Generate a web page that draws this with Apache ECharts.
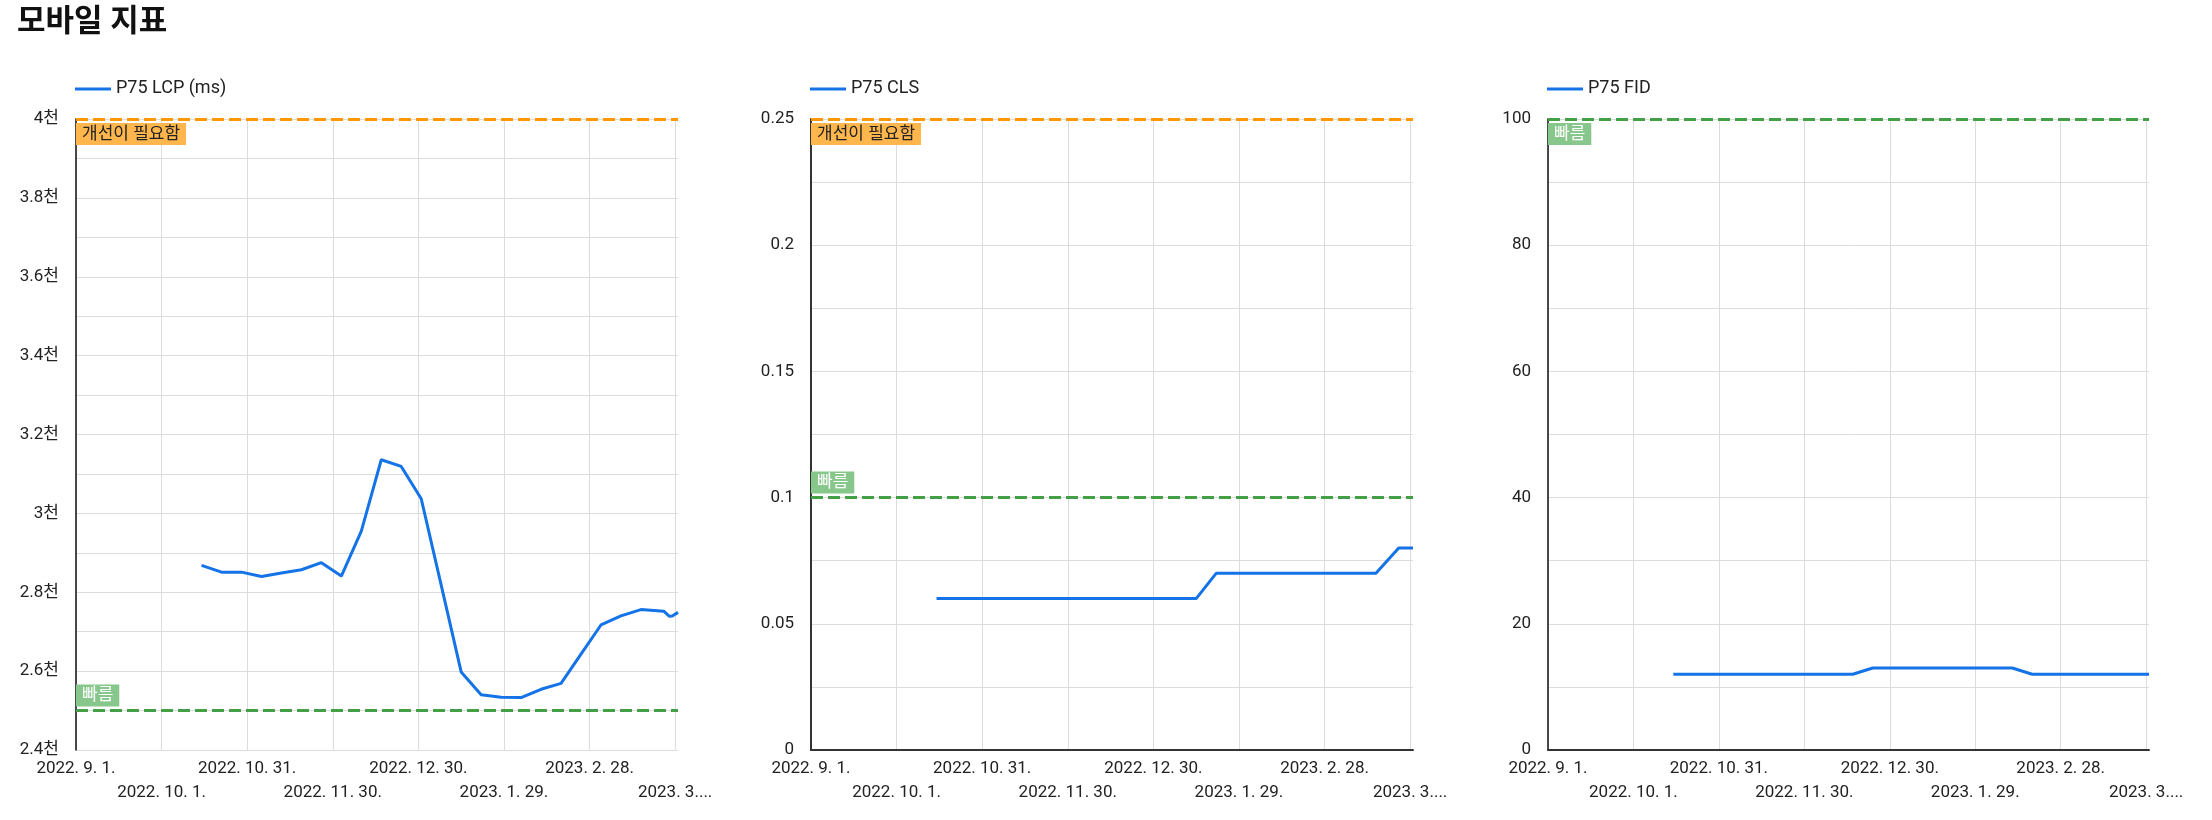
<!DOCTYPE html>
<html>
<head>
<meta charset="utf-8">
<script src="https://cdn.jsdelivr.net/npm/echarts@6/dist/echarts.min.js"></script>
<style>
html,body{margin:0;padding:0;background:#fff;}
#chart{width:2212px;height:820px;}
</style>
</head>
<body>
<div id="chart"></div>
<script>
// ---- data ----
const titleText = '모바일 지표';
const startDate = '2022-09-01';
const dates = [
  '2022-10-15','2022-10-22','2022-10-29','2022-11-05','2022-11-12','2022-11-19','2022-11-26',
  '2022-12-03','2022-12-10','2022-12-17','2022-12-24','2022-12-31','2023-01-07','2023-01-14',
  '2023-01-21','2023-01-28','2023-02-04','2023-02-11','2023-02-18','2023-02-25','2023-03-04',
  '2023-03-11','2023-03-18','2023-03-26','2023-03-28','2023-03-29','2023-03-31'
];
const lcpValues = [2868,2851,2851,2840,2849,2857,2875,2841,2955,3136,3119,3037,2818,2598,
  2540,2534,2533,2554,2569,2643,2717,2740,2756,2752,2739,2740,2749];
const clsValues = [0.06,0.06,0.06,0.06,0.06,0.06,0.06,0.06,0.06,0.06,0.06,0.06,0.06,0.06,
  0.07,0.07,0.07,0.07,0.07,0.07,0.07,0.07,0.07,0.08,0.08,0.08,0.08];
const fidValues = [12,12,12,12,12,12,12,12,12,12,13,13,13,13,13,13,13,13,12,12,12,12,12,12,12,12,12];
const xTickLabels = ['2022. 9. 1.','2022. 10. 1.','2022. 10. 31.','2022. 11. 30.',
  '2022. 12. 30.','2023. 1. 29.','2023. 2. 28.','2023. 3....'];
const seriesNames = ['P75 LCP (ms)','P75 CLS','P75 FID'];
const lcpThresholds = {needsImprovement: 4000, good: 2500};
const clsThresholds = {needsImprovement: 0.25, good: 0.1};
const fidThresholds = {good: 100};
const labelNeeds = '개선이 필요함';
const labelGood = '빠름';

// ---- helpers ----
function dayOffset(d){
  const p = d.split('-').map(Number), s = startDate.split('-').map(Number);
  return Math.round((Date.UTC(p[0],p[1]-1,p[2]) - Date.UTC(s[0],s[1]-1,s[2]))/86400000);
}
const xDays = dates.map(dayOffset);
const xMax = dayOffset('2023-03-31');
const pairs = vals => xDays.map((d,i)=>[d, vals[i]]);

const FONT = 'Roboto, "Noto Sans CJK KR", sans-serif';
const BLUE = '#1473e6', ORANGE = '#ff9800', ORANGE_BG = '#ffb74d', GREEN = '#43a047', GREEN_BG = '#88c78b';
const GRID_COLOR = '#dcdcdc';

const lefts = [76, 811, 1548];
const widths = [602, 602, 601];

function xAxisCfg(idx, showLine){
  return {
    type:'value', gridIndex: idx, min:0, max:xMax, interval:30,
    axisLine:{show: showLine, onZero:false, lineStyle:{color:'#333', width:2}},
    axisTick:{show:false},
    splitLine:{show:true, showMaxLine:false, lineStyle:{color:GRID_COLOR, width:1}},
    axisLabel:{
      showMaxLabel:false, color:'#222', fontFamily:FONT, fontSize:17, lineHeight:24, margin:7,
      formatter: v => {
        if (v % 30 !== 0) return '';
        const i = v/30;
        const t = xTickLabels[i] || '';
        return i % 2 === 1 ? '\n' + t : t;
      }
    }
  };
}
function yAxisCfg(idx, min, max, interval, labelEvery, fmt, lineW, lineC){
  return {
    type:'value', gridIndex: idx, min, max, interval,
    axisLine:{show:true, lineStyle:{color:lineC, width:lineW}},
    axisTick:{show:false},
    splitLine:{show:true, lineStyle:{color:GRID_COLOR, width:1}},
    axisLabel:{
      color:'#222', fontFamily:FONT, fontSize:17, margin:17,
      formatter: v => {
        const k = Math.round(v/interval);
        return (k % labelEvery === 0) ? fmt(v) : '';
      }
    }
  };
}
function mlLabel(text, pos, bg, color){
  return {
    show:true, formatter:text, position:pos, backgroundColor:bg, color:color,
    fontFamily:FONT, fontSize:17, padding:[3,6,2,6], distance:[0,4], borderRadius:0
  };
}
function lineItem(y, color, label){
  return {yAxis:y, lineStyle:{color:color, type:[12,5], width:3}, label:label};
}

const option = {
  animation:false,
  title:{text:titleText, left:17, top:8, padding:0,
    textStyle:{fontFamily:FONT, fontSize:31, fontWeight:'bold', color:'#111'}},
  legend: seriesNames.map((n,i)=>({
    data:[n], left:lefts[i]-1, top:80, padding:0, icon:'rect', itemWidth:36, itemHeight:3,
    textStyle:{fontFamily:FONT, fontSize:18, color:'#222'}, selectedMode:false
  })),
  grid: lefts.map((l,i)=>({left:l, width:widths[i], top:119, height:631, containLabel:false})),
  xAxis:[xAxisCfg(0,false), xAxisCfg(1,true), xAxisCfg(2,true)],
  yAxis:[
    yAxisCfg(0, 2400, 4000, 100, 2, v => (v/1000) + '천', 1.5, '#111'),
    yAxisCfg(1, 0, 0.25, 0.025, 2, v => String(+v.toFixed(3)), 2, '#333'),
    yAxisCfg(2, 0, 100, 10, 2, v => String(v), 1.5, '#111')
  ],
  series:[
    {name:seriesNames[0], type:'line', xAxisIndex:0, yAxisIndex:0, data:pairs(lcpValues),
     showSymbol:false, symbol:'none', lineStyle:{color:BLUE, width:3}, itemStyle:{color:BLUE},
     markLine:{silent:true, symbol:'none', data:[
       lineItem(lcpThresholds.needsImprovement, ORANGE, mlLabel(labelNeeds,'insideStartBottom',ORANGE_BG,'#222')),
       lineItem(lcpThresholds.good, GREEN, mlLabel(labelGood,'insideStartTop',GREEN_BG,'#fff'))
     ]}},
    {name:seriesNames[1], type:'line', xAxisIndex:1, yAxisIndex:1, data:pairs(clsValues),
     showSymbol:false, symbol:'none', lineStyle:{color:BLUE, width:3}, itemStyle:{color:BLUE},
     markLine:{silent:true, symbol:'none', data:[
       lineItem(clsThresholds.needsImprovement, ORANGE, mlLabel(labelNeeds,'insideStartBottom',ORANGE_BG,'#222')),
       lineItem(clsThresholds.good, GREEN, mlLabel(labelGood,'insideStartTop',GREEN_BG,'#fff'))
     ]}},
    {name:seriesNames[2], type:'line', xAxisIndex:2, yAxisIndex:2, data:pairs(fidValues),
     showSymbol:false, symbol:'none', lineStyle:{color:BLUE, width:3}, itemStyle:{color:BLUE},
     markLine:{silent:true, symbol:'none', data:[
       lineItem(fidThresholds.good, GREEN, mlLabel(labelGood,'insideStartBottom',GREEN_BG,'#fff'))
     ]}}
  ]
};
const chart = echarts.init(document.getElementById('chart'), null, {renderer:'canvas'});
chart.setOption(option);
</script>
</body>
</html>
